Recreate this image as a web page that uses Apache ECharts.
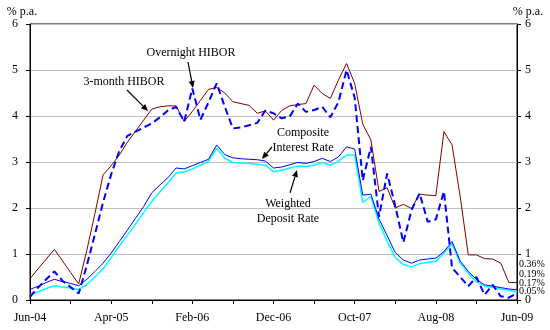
<!DOCTYPE html>
<html><head><meta charset="utf-8">
<script src="https://cdn.jsdelivr.net/npm/echarts@6/dist/echarts.min.js"></script>
<style>html,body{margin:0;padding:0;background:#fff}#c{width:550px;height:330px}</style>
</head><body><div id="c"></div>
<script>
var months = ["Jun-04","Jul-04","Aug-04","Sep-04","Oct-04","Nov-04","Dec-04","Jan-05","Feb-05","Mar-05","Apr-05","May-05","Jun-05","Jul-05","Aug-05","Sep-05","Oct-05","Nov-05","Dec-05","Jan-06","Feb-06","Mar-06","Apr-06","May-06","Jun-06","Jul-06","Aug-06","Sep-06","Oct-06","Nov-06","Dec-06","Jan-07","Feb-07","Mar-07","Apr-07","May-07","Jun-07","Jul-07","Aug-07","Sep-07","Oct-07","Nov-07","Dec-07","Jan-08","Feb-08","Mar-08","Apr-08","May-08","Jun-08","Jul-08","Aug-08","Sep-08","Oct-08","Nov-08","Dec-08","Jan-09","Feb-09","Mar-09","Apr-09","May-09","Jun-09"];

var hibor3m = [0.46,0.68,0.89,1.10,0.85,0.60,0.35,1.08,1.88,2.72,2.92,3.15,3.43,3.67,3.91,4.15,4.20,4.22,4.22,3.88,4.10,4.34,4.58,4.62,4.50,4.31,4.27,4.23,4.06,4.11,3.91,4.12,4.22,4.25,4.27,4.67,4.49,4.38,4.78,5.14,4.71,3.82,3.48,2.36,2.44,2.00,2.08,1.99,2.30,2.28,2.27,3.66,3.37,2.25,0.98,0.98,0.90,0.89,0.80,0.38,0.38];

var hiborON = [0.07,0.27,0.45,0.62,0.42,0.28,0.14,0.75,1.43,2.12,2.73,3.24,3.57,3.66,3.75,3.84,3.97,4.12,4.20,3.88,4.60,3.92,4.30,4.71,4.20,3.73,3.75,3.80,3.85,4.12,4.06,3.95,3.99,4.27,4.09,4.13,4.20,3.97,4.30,5.00,4.40,2.60,3.33,1.81,2.75,2.05,1.25,1.95,2.32,1.70,1.75,2.36,0.70,0.50,0.30,0.50,0.11,0.33,0.08,0.05,0.15];

var composite = [0.23,0.30,0.38,0.45,0.40,0.36,0.31,0.45,0.62,0.80,1.02,1.27,1.52,1.78,2.03,2.33,2.50,2.66,2.87,2.85,2.92,2.99,3.06,3.37,3.16,3.09,3.07,3.06,3.05,3.02,2.87,2.89,2.94,2.99,2.97,3.01,3.08,3.01,3.11,3.33,3.28,2.28,2.30,1.76,1.40,1.03,0.87,0.80,0.87,0.89,0.91,1.05,1.27,0.85,0.62,0.45,0.33,0.30,0.27,0.24,0.22];

var deposit = [0.11,0.18,0.25,0.31,0.28,0.26,0.23,0.33,0.50,0.68,0.92,1.17,1.41,1.65,1.90,2.14,2.35,2.55,2.76,2.78,2.85,2.93,3.02,3.30,3.08,2.99,2.98,2.97,2.95,2.93,2.79,2.82,2.87,2.91,2.90,2.93,2.99,2.93,3.02,3.15,3.15,2.12,2.25,1.67,1.28,0.92,0.77,0.72,0.79,0.82,0.84,1.02,1.22,0.80,0.58,0.40,0.30,0.27,0.24,0.21,0.18];

var endLabels = ["0.36%","0.19%","0.17%","0.05%"];

var FONT = '"Liberation Serif","Times New Roman",serif';
var chart = echarts.init(document.getElementById('c'), null, {renderer:'canvas'});

function arrow(x1,y1,x2,y2){
  var dx=x2-x1, dy=y2-y1, L=Math.sqrt(dx*dx+dy*dy), ux=dx/L, uy=dy/L;
  var hl=7, hw=3;
  var bx=x2-ux*hl, by=y2-uy*hl;
  return [
    {type:'line', shape:{x1:x1,y1:y1,x2:bx,y2:by}, style:{stroke:'#000',lineWidth:1.2}, z:100},
    {type:'polygon', shape:{points:[[x2,y2],[bx-uy*hw,by+ux*hw],[bx+uy*hw,by-ux*hw]]}, style:{fill:'#000'}, z:100}
  ];
}
function txt(x,y,s,size,align){
  return {type:'text', x:x, y:y, style:{text:s, font:(size||12)+'px '+FONT, fill:'#000', align:align||'center', verticalAlign:'middle'}, z:100};
}

var graphics = [
  txt(22,12,'% p.a.'), txt(528,12,'% p.a.'),
  txt(191,53,'Overnight HIBOR'), txt(124,82,'3-month HIBOR'),
  txt(303,133,'Composite'), txt(303,148,'Interest Rate'),
  txt(288,204,'Weighted'), txt(288,219,'Deposit Rate')
].concat(arrow(188,62,193,88), arrow(127,90,148,111), arrow(272,147,262,159), arrow(290,193,297,170));
var ly=[264,274,283,291];
for (var k=0;k<endLabels.length;k++) graphics.push(txt(519,ly[k],endLabels[k],10,'left'));

var yCommon = {
  type:'value', min:0, max:6, interval:1,
  axisLine:{show:true, lineStyle:{color:'#000', width:1}},
  axisTick:{show:true, length:4, lineStyle:{color:'#000'}},
  axisLabel:{color:'#000', fontFamily:FONT, fontSize:12}
};

chart.setOption({
  animation:false,
  backgroundColor:'#fff',
  grid:{left:30, right:33, top:24, bottom:30, show:true, borderColor:'#000', borderWidth:1, containLabel:false},
  xAxis:{
    type:'category', data:months, boundaryGap:false,
    axisLine:{lineStyle:{color:'#000', width:1}},
    axisTick:{show:true, interval:4, length:4, lineStyle:{color:'#000'}},
    axisLabel:{interval:9, color:'#000', fontFamily:FONT, fontSize:12, margin:12},
    splitLine:{show:false}
  },
  yAxis:[
    Object.assign({}, yCommon, {position:'left', axisLabel:Object.assign({}, yCommon.axisLabel, {margin:12}), splitLine:{show:true, lineStyle:{color:'#c0c0c0', width:1}}}),
    Object.assign({}, yCommon, {position:'right', axisLabel:Object.assign({}, yCommon.axisLabel, {margin:8}), splitLine:{show:false}})
  ],
  series:[
    {name:'Weighted Deposit Rate', type:'line', data:deposit, symbol:'none', lineStyle:{color:'#00FFFF', width:1.5}, z:2},
    {name:'Composite Interest Rate', type:'line', data:composite, symbol:'none', lineStyle:{color:'#0000FF', width:1}, z:3},
    {name:'3-month HIBOR', type:'line', data:hibor3m, symbol:'none', lineStyle:{color:'#800000', width:1}, z:4},
    {name:'Overnight HIBOR', type:'line', data:hiborON, symbol:'none', lineStyle:{color:'#0000FF', width:2, type:[7,4]}, z:5}
  ],
  graphic:graphics
});
</script></body></html>
